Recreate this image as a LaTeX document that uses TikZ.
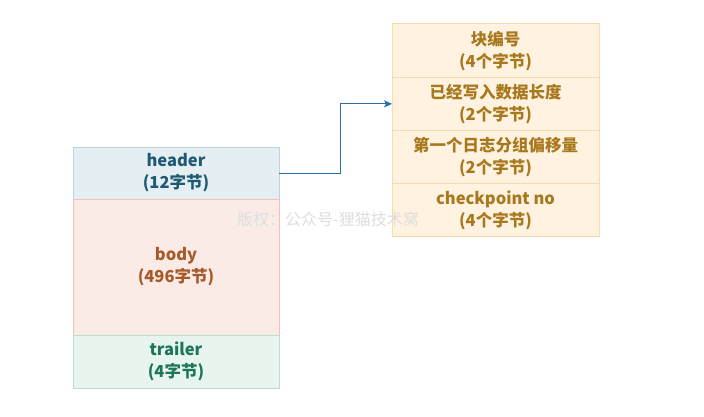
\documentclass[tikz,border=0pt]{standalone}
\usepackage{fontspec}
\setmainfont{Noto Sans CJK SC}
\usetikzlibrary{arrows.meta,positioning}
\definecolor{hdrfill}{HTML}{E5EEF2}
\definecolor{hdrline}{HTML}{B9D5E2}
\definecolor{hdrtext}{HTML}{1F5A73}
\definecolor{bodyfill}{HTML}{FBEBE6}
\definecolor{bodyline}{HTML}{F2C3B5}
\definecolor{bodytext}{HTML}{A65A2A}
\definecolor{trlfill}{HTML}{E8F5EF}
\definecolor{trlline}{HTML}{B8E0CF}
\definecolor{trltext}{HTML}{1D7658}
\definecolor{blkfill}{HTML}{FFF2E1}
\definecolor{blkline}{HTML}{FCD9AC}
\definecolor{blktext}{HTML}{A8781C}
\definecolor{arrowblue}{HTML}{2C6DA6}

\begin{document}
\begin{tikzpicture}[x=1pt,y=-1pt,->,>={Stealth[length=8pt,width=7pt,inset=2pt]},
    node distance=0pt,
    field/.style={draw,line width=1pt,outer sep=0pt,inner sep=0pt,align=center,
      font=\fontsize{16.5}{22}\selectfont\bfseries},
    left field/.style={field,minimum width=206pt},
    right field/.style={field,minimum width=207pt,fill=blkfill,draw=blkline,
      text=blktext,minimum height=53.25pt}]
  \useasboundingbox[fill=white] (0,0) rectangle (704,416);

  % page layout on the left
  \node[left field,minimum height=52pt,fill=hdrfill,draw=hdrline,text=hdrtext]
    (header) at (176,173) {header\\(12字节)};
  \node[left field,minimum height=136pt,fill=bodyfill,draw=bodyline,text=bodytext]
    (body) [below=of header] {body\\(496字节)};
  \node[left field,minimum height=53pt,fill=trlfill,draw=trlline,text=trltext]
    (trailer) [below=of body] {trailer\\(4字节)};

  % header fields on the right
  \node[right field] (blkno) at (495.5,50.6) {块编号\\(4个字节)};
  \node[right field] (written) [below=of blkno] {已经写入数据长度\\(2个字节)};
  \node[right field] (firstgrp) [below=of written] {第一个日志分组偏移量\\(2个字节)};
  \node[right field] (ckpt) [below=of firstgrp] {checkpoint no\\(4个字节)};

  \draw[arrowblue,line width=0.8pt] (header.east) -- ++(61,0) |- (written.west);

  \node[text=black!13,font=\fontsize{16}{18}\selectfont] (mark)
    at (328,219) {版权：公众号-狸猫技术窝};
\end{tikzpicture}
\end{document}
